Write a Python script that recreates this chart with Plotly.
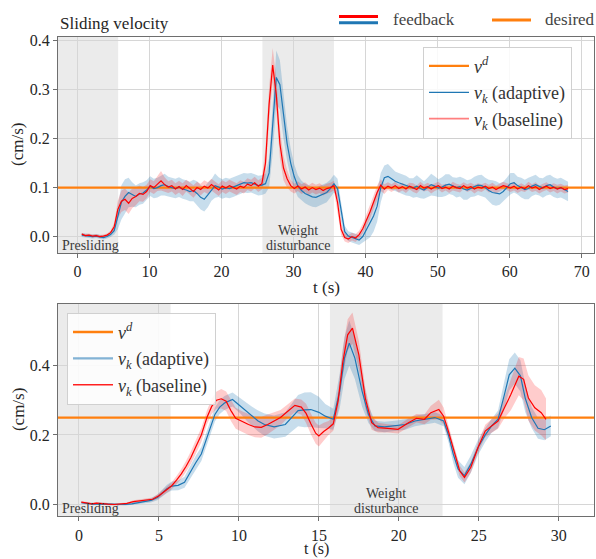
import numpy as np
import plotly.graph_objects as go

# ---------------- data: top panel (full run) ----------------
t_top = [0.6, 1.1, 1.6, 2.1, 2.6, 3.1, 3.6, 4.1, 4.6, 5.1,
         5.6, 6.1, 6.6, 7.1, 7.6, 8.1, 8.6, 9.1, 9.6, 10.1,
         10.6, 11.1, 11.6, 12.1, 12.6, 13.1, 13.6, 14.1, 14.6, 15.1,
         15.6, 16.1, 16.6, 17.1, 17.6, 18.1, 18.6, 19.1, 19.6, 20.1,
         20.6, 21.1, 21.6, 22.1, 22.6, 23.1, 23.6, 24.1, 24.6, 25.1,
         25.6, 26.1, 26.6, 27.1, 27.6, 28.1, 28.6, 29.1, 29.6, 30.1,
         30.6, 31.1, 31.6, 32.1, 32.6, 33.1, 33.6, 34.1, 34.6, 35.1,
         35.6, 36.1, 36.6, 37.1, 37.6, 38.1, 38.6, 39.1, 39.6, 40.1,
         40.6, 41.1, 41.6, 42.1, 42.6, 43.1, 43.6, 44.1, 44.6, 45.1,
         45.6, 46.1, 46.6, 47.1, 47.6, 48.1, 48.6, 49.1, 49.6, 50.1,
         50.6, 51.1, 51.6, 52.1, 52.6, 53.1, 53.6, 54.1, 54.6, 55.1,
         55.6, 56.1, 56.6, 57.1, 57.6, 58.1, 58.6, 59.1, 59.6, 60.1,
         60.6, 61.1, 61.6, 62.1, 62.6, 63.1, 63.6, 64.1, 64.6, 65.1,
         65.6, 66.1, 66.6, 67.1, 67.6, 68.1]

top_baseline = [0.005, 0.002, 0.003, 0.001, 0.002, 0.000, 0.001, 0.003, 0.008, 0.020,
                0.055, 0.072, 0.076, 0.068, 0.078, 0.082, 0.088, 0.086, 0.092, 0.104,
                0.100, 0.108, 0.114, 0.106, 0.101, 0.104, 0.097, 0.102, 0.096, 0.104,
                0.098, 0.092, 0.100, 0.096, 0.103, 0.099, 0.106, 0.101, 0.095, 0.103,
                0.099, 0.104, 0.101, 0.097, 0.103, 0.100, 0.107, 0.104, 0.110, 0.103,
                0.108, 0.150, 0.270, 0.350, 0.290, 0.190, 0.140, 0.118, 0.104, 0.098,
                0.103, 0.097, 0.101, 0.095, 0.100, 0.096, 0.099, 0.094, 0.098, 0.100,
                0.104, 0.070, 0.015, -0.002, -0.005, 0.000, -0.003, 0.004, 0.016, 0.032,
                0.050, 0.070, 0.090, 0.105, 0.097, 0.103, 0.099, 0.104, 0.098, 0.102,
                0.097, 0.103, 0.100, 0.096, 0.104, 0.099, 0.102, 0.097, 0.101, 0.104,
                0.098, 0.101, 0.097, 0.103, 0.100, 0.098, 0.104, 0.099, 0.102, 0.097,
                0.101, 0.099, 0.103, 0.098, 0.101, 0.096, 0.100, 0.104, 0.102, 0.099,
                0.103, 0.097, 0.101, 0.098, 0.104, 0.099, 0.102, 0.096, 0.100, 0.103,
                0.098, 0.101, 0.097, 0.100, 0.096, 0.098]

top_baseline_sd = [0.003, 0.003, 0.003, 0.003, 0.003, 0.003, 0.003, 0.003, 0.004, 0.008,
                   0.018, 0.022, 0.022, 0.022, 0.020, 0.018, 0.016, 0.015, 0.014, 0.013,
                   0.013, 0.015, 0.020, 0.015, 0.012, 0.012, 0.012, 0.012, 0.013, 0.012,
                   0.012, 0.013, 0.012, 0.012, 0.012, 0.012, 0.012, 0.012, 0.012, 0.012,
                   0.012, 0.012, 0.012, 0.012, 0.012, 0.012, 0.012, 0.012, 0.012, 0.012,
                   0.012, 0.030, 0.035, 0.035, 0.035, 0.030, 0.025, 0.018, 0.012, 0.010,
                   0.010, 0.010, 0.010, 0.010, 0.010, 0.010, 0.010, 0.010, 0.010, 0.010,
                   0.010, 0.020, 0.012, 0.008, 0.008, 0.008, 0.008, 0.008, 0.010, 0.012,
                   0.014, 0.014, 0.014, 0.012, 0.010, 0.008, 0.008, 0.008, 0.008, 0.008,
                   0.008, 0.007, 0.009, 0.008, 0.008, 0.007, 0.008, 0.009, 0.008, 0.008,
                   0.008, 0.007, 0.008, 0.009, 0.008, 0.008, 0.007, 0.008, 0.008, 0.009,
                   0.008, 0.008, 0.007, 0.008, 0.009, 0.008, 0.008, 0.008, 0.007, 0.008,
                   0.009, 0.008, 0.008, 0.007, 0.008, 0.008, 0.009, 0.008, 0.008, 0.008,
                   0.008, 0.008, 0.009, 0.008, 0.008, 0.008]

top_adaptive = [0.003, 0.002, 0.001, 0.000, 0.001, -0.001, -0.002, 0.000, 0.004, 0.012,
                0.040, 0.070, 0.082, 0.090, 0.086, 0.082, 0.087, 0.089, 0.095, 0.103,
                0.098, 0.100, 0.104, 0.106, 0.102, 0.100, 0.098, 0.101, 0.097, 0.095,
                0.092, 0.094, 0.088, 0.080, 0.076, 0.085, 0.095, 0.104, 0.101, 0.097,
                0.100, 0.098, 0.101, 0.104, 0.106, 0.110, 0.109, 0.110, 0.107, 0.104,
                0.105, 0.108, 0.130, 0.220, 0.325, 0.310, 0.245, 0.190, 0.150, 0.122,
                0.103, 0.094, 0.088, 0.084, 0.081, 0.080, 0.083, 0.086, 0.090, 0.098,
                0.108, 0.098, 0.050, 0.010, 0.001, -0.002, -0.004, -0.007, 0.000, 0.013,
                0.026, 0.042, 0.062, 0.100, 0.120, 0.123, 0.118, 0.113, 0.110, 0.107,
                0.104, 0.101, 0.099, 0.103, 0.098, 0.095, 0.100, 0.106, 0.103, 0.099,
                0.101, 0.105, 0.107, 0.103, 0.100, 0.102, 0.097, 0.095, 0.099, 0.102,
                0.105, 0.104, 0.100, 0.094, 0.090, 0.088, 0.087, 0.092, 0.100, 0.108,
                0.110, 0.104, 0.100, 0.096, 0.098, 0.103, 0.106, 0.102, 0.099, 0.104,
                0.106, 0.101, 0.098, 0.100, 0.096, 0.092]

top_adaptive_sd = [0.004, 0.004, 0.004, 0.004, 0.004, 0.004, 0.004, 0.004, 0.005, 0.008,
                   0.025, 0.035, 0.035, 0.030, 0.025, 0.022, 0.022, 0.022, 0.020, 0.020,
                   0.020, 0.020, 0.020, 0.022, 0.020, 0.020, 0.020, 0.020, 0.020, 0.020,
                   0.020, 0.022, 0.025, 0.025, 0.025, 0.025, 0.022, 0.025, 0.020, 0.020,
                   0.020, 0.020, 0.020, 0.020, 0.020, 0.020, 0.020, 0.020, 0.020, 0.020,
                   0.020, 0.020, 0.030, 0.050, 0.055, 0.050, 0.045, 0.035, 0.030, 0.025,
                   0.022, 0.020, 0.020, 0.020, 0.020, 0.020, 0.020, 0.020, 0.020, 0.018,
                   0.018, 0.020, 0.020, 0.012, 0.010, 0.010, 0.010, 0.010, 0.012, 0.020,
                   0.028, 0.032, 0.032, 0.030, 0.025, 0.025, 0.022, 0.020, 0.020, 0.020,
                   0.020, 0.018, 0.020, 0.022, 0.020, 0.018, 0.020, 0.022, 0.020, 0.018,
                   0.020, 0.022, 0.020, 0.018, 0.020, 0.020, 0.022, 0.020, 0.018, 0.020,
                   0.020, 0.022, 0.020, 0.022, 0.025, 0.025, 0.022, 0.020, 0.020, 0.022,
                   0.020, 0.018, 0.020, 0.020, 0.022, 0.020, 0.020, 0.018, 0.020, 0.020,
                   0.020, 0.020, 0.020, 0.020, 0.020, 0.020]

vd_top = 0.1
top_presliding = (-2.7, 5.65)
top_weight = (25.67, 35.6)
top_xrange = (-2.7, 71.7)
top_yrange = (-0.034, 0.408)
top_xticks = [0, 10, 20, 30, 40, 50, 60, 70]
top_yticks = [0.0, 0.1, 0.2, 0.3, 0.4]

# ---------------- data: bottom panel (zoom) ----------------
t_bot_baseline = [0.15, 0.5, 0.8, 1.1, 1.4, 1.8, 2.2, 2.6, 3.0, 3.4,
                  3.8, 4.2, 4.6, 5.0, 5.4, 5.8, 6.1, 6.4, 6.7, 7.0,
                  7.3, 7.65, 8.0, 8.3, 8.6, 8.9, 9.2, 9.5, 9.8, 10.2,
                  10.6, 11.0, 11.4, 11.8, 12.2, 12.6, 13.0, 13.5, 13.9, 14.2,
                  14.5, 14.8, 15.0, 15.3, 15.6, 15.9, 16.2, 16.5, 16.8, 17.1,
                  17.5, 17.9, 18.3, 18.7, 19.3, 19.95, 20.6, 21.1, 21.6, 22.0,
                  22.5, 22.8, 23.1, 23.5, 23.8, 24.1, 24.5, 24.95, 25.4, 25.8,
                  26.2, 26.6, 27.0, 27.5, 27.8, 28.1, 28.5, 28.9, 29.2]
bot_baseline = [0.007, 0.005, 0.002, 0.004, 0.002, 0.001, 0.000, 0.001, 0.003, 0.008,
                0.010, 0.012, 0.015, 0.025, 0.040, 0.054, 0.070, 0.088, 0.110, 0.135,
                0.165, 0.200, 0.250, 0.282, 0.300, 0.304, 0.297, 0.270, 0.248, 0.238,
                0.230, 0.223, 0.222, 0.230, 0.240, 0.250, 0.266, 0.285, 0.280, 0.262,
                0.232, 0.205, 0.197, 0.210, 0.220, 0.232, 0.297, 0.411, 0.488, 0.507,
                0.430, 0.306, 0.235, 0.221, 0.219, 0.216, 0.235, 0.248, 0.245, 0.264,
                0.273, 0.254, 0.210, 0.145, 0.097, 0.078, 0.107, 0.164, 0.211, 0.226,
                0.240, 0.278, 0.316, 0.369, 0.360, 0.306, 0.278, 0.264, 0.245]
bot_baseline_sd = [0.003, 0.003, 0.003, 0.003, 0.003, 0.003, 0.003, 0.003, 0.003, 0.004,
                   0.004, 0.005, 0.005, 0.007, 0.009, 0.010, 0.012, 0.014, 0.016, 0.018,
                   0.020, 0.020, 0.020, 0.022, 0.025, 0.028, 0.028, 0.030, 0.030, 0.030,
                   0.030, 0.030, 0.030, 0.028, 0.025, 0.022, 0.020, 0.020, 0.022, 0.028,
                   0.030, 0.030, 0.030, 0.025, 0.020, 0.020, 0.030, 0.040, 0.045, 0.045,
                   0.040, 0.030, 0.020, 0.014, 0.012, 0.012, 0.012, 0.012, 0.014, 0.020,
                   0.028, 0.025, 0.018, 0.015, 0.015, 0.015, 0.015, 0.015, 0.018, 0.020,
                   0.022, 0.030, 0.045, 0.055, 0.060, 0.065, 0.065, 0.065, 0.060]

t_bot_adaptive = [0.15, 0.5, 0.9, 1.3, 1.7, 2.1, 2.5, 2.9, 3.3, 3.7,
                  4.1, 4.5, 4.9, 5.2, 5.5, 5.8, 6.2, 6.6, 7.0, 7.3,
                  7.65, 8.06, 8.5, 8.8, 9.1, 9.6, 10.1, 10.5, 10.8, 11.2,
                  11.6, 12.2, 12.9, 13.3, 13.7, 14.1, 14.5, 15.0, 15.4, 15.9,
                  16.3, 16.6, 16.9, 17.25, 17.7, 18.1, 18.5, 19.1, 19.75, 20.4,
                  21.0, 21.6, 22.25, 22.8, 23.1, 23.4, 23.7, 24.1, 24.5, 24.95,
                  25.4, 25.8, 26.2, 26.6, 26.9, 27.25, 27.6, 27.9, 28.3, 28.7,
                  29.1, 29.5]
bot_adaptive = [0.005, 0.003, 0.001, 0.002, 0.001, 0.000, 0.000, 0.000, 0.002, 0.006,
                0.009, 0.012, 0.020, 0.032, 0.045, 0.053, 0.055, 0.064, 0.097, 0.120,
                0.145, 0.200, 0.259, 0.280, 0.292, 0.302, 0.283, 0.265, 0.254, 0.240,
                0.230, 0.223, 0.230, 0.250, 0.270, 0.272, 0.273, 0.265, 0.254, 0.245,
                0.326, 0.421, 0.464, 0.421, 0.326, 0.259, 0.226, 0.223, 0.226, 0.230,
                0.240, 0.245, 0.250, 0.240, 0.200, 0.145, 0.102, 0.083, 0.116, 0.164,
                0.200, 0.226, 0.245, 0.316, 0.373, 0.392, 0.370, 0.306, 0.250, 0.219,
                0.215, 0.226]
bot_adaptive_sd = [0.003, 0.003, 0.003, 0.003, 0.003, 0.003, 0.003, 0.003, 0.003, 0.004,
                   0.005, 0.006, 0.008, 0.010, 0.012, 0.013, 0.014, 0.016, 0.020, 0.020,
                   0.020, 0.020, 0.020, 0.020, 0.020, 0.020, 0.022, 0.025, 0.028, 0.030,
                   0.032, 0.033, 0.035, 0.040, 0.045, 0.050, 0.050, 0.045, 0.035, 0.030,
                   0.050, 0.060, 0.065, 0.060, 0.045, 0.025, 0.015, 0.015, 0.015, 0.015,
                   0.015, 0.015, 0.015, 0.015, 0.020, 0.025, 0.025, 0.025, 0.025, 0.022,
                   0.020, 0.020, 0.025, 0.040, 0.045, 0.045, 0.045, 0.040, 0.030, 0.030,
                   0.030, 0.030]

vd_bot = 0.25
bot_presliding = (-1.31, 5.73)
bot_weight = (15.69, 22.73)
bot_xrange = (-1.31, 32.2)
bot_yrange = (-0.034, 0.577)
bot_xticks = [0, 5, 10, 15, 20, 25, 30]
bot_yticks = [0.0, 0.2, 0.4]

# ---------------- style ----------------
FONT = "'Liberation Serif', 'DejaVu Serif', serif"
BLUE = "#1f77b4"
RED = "#ff0000"
ORANGE = "#ff7f0e"
BLUE_BAND = "rgba(31,119,180,0.25)"
RED_BAND = "rgba(255,0,0,0.20)"
SHADE = "#ebebeb"
GRID = "#d6d6d6"
FRAME = "#6e6e6e"
TXT = "#262626"

W, H = 596, 559
ML, MR = 58, 2


def py(pix):
    return 1 - pix / H


def px(pix):
    return (pix - ML) / (W - ML - MR)


fig = go.Figure()


def band(t, m, s, color, xa, ya):
    m = np.array(m)
    s = np.array(s)
    fig.add_trace(go.Scatter(x=t, y=m + s, mode="lines", line=dict(width=0),
                             showlegend=False, hoverinfo="skip", xaxis=xa, yaxis=ya))
    fig.add_trace(go.Scatter(x=t, y=m - s, mode="lines", line=dict(width=0),
                             fill="tonexty", fillcolor=color, showlegend=False,
                             hoverinfo="skip", xaxis=xa, yaxis=ya))


def panel(t_b, base, base_sd, t_a, adap, adap_sd, vd, xr, xa, ya):
    band(t_a, adap, adap_sd, BLUE_BAND, xa, ya)
    band(t_b, base, base_sd, RED_BAND, xa, ya)
    fig.add_trace(go.Scatter(x=list(xr), y=[vd, vd], mode="lines",
                             line=dict(color=ORANGE, width=2.2), showlegend=False,
                             xaxis=xa, yaxis=ya))
    fig.add_trace(go.Scatter(x=t_a, y=adap, mode="lines", line=dict(color=BLUE, width=1.2),
                             showlegend=False, xaxis=xa, yaxis=ya))
    fig.add_trace(go.Scatter(x=t_b, y=base, mode="lines", line=dict(color=RED, width=1.2),
                             showlegend=False, xaxis=xa, yaxis=ya))


panel(t_top, top_baseline, top_baseline_sd, t_top, top_adaptive, top_adaptive_sd,
      vd_top, top_xrange, "x", "y")
panel(t_bot_baseline, bot_baseline, bot_baseline_sd, t_bot_adaptive, bot_adaptive,
      bot_adaptive_sd, vd_bot, bot_xrange, "x2", "y2")

LBL_VD = "<i>v</i><sup><i>d</i></sup>"
LBL_AD = "<i>v<sub>k</sub></i> (adaptive)"
LBL_BL = "<i>v<sub>k</sub></i> (baseline)"

# legend entries (top panel)
for name, col, w in [(LBL_VD, ORANGE, 2.2), (LBL_AD, BLUE, 1.2), (LBL_BL, "rgba(255,0,0,0.5)", 1.8)]:
    fig.add_trace(go.Scatter(x=[None], y=[None], mode="lines", name=name,
                             line=dict(color=col, width=w), legend="legend",
                             xaxis="x", yaxis="y"))
# legend entries (bottom panel)
for name, col, w in [(LBL_VD, ORANGE, 2.5), (LBL_AD, "rgba(31,119,180,0.55)", 2.2), (LBL_BL, "#ff2020", 1.3)]:
    fig.add_trace(go.Scatter(x=[None], y=[None], mode="lines", name=name,
                             line=dict(color=col, width=w), legend="legend2",
                             xaxis="x2", yaxis="y2"))

shapes = []
for (x0, x1), xa, ya in [(top_presliding, "x", "y"), (top_weight, "x", "y"),
                         (bot_presliding, "x2", "y2"), (bot_weight, "x2", "y2")]:
    shapes.append(dict(type="rect", xref=xa, yref=ya + " domain", x0=x0, x1=x1, y0=0, y1=1,
                       fillcolor=SHADE, line=dict(width=0), layer="below"))

# figure-level legend: "feedback" (red over blue) and "desired"
shapes += [
    dict(type="line", xref="paper", yref="paper", x0=px(339), x1=px(378), y0=py(12.5), y1=py(12.5),
         line=dict(color=RED, width=3)),
    dict(type="line", xref="paper", yref="paper", x0=px(339), x1=px(378), y0=py(19), y1=py(19),
         line=dict(color=BLUE, width=3)),
    dict(type="line", xref="paper", yref="paper", x0=px(492), x1=px(531), y0=py(16), y1=py(16),
         line=dict(color=ORANGE, width=3)),
]

ann = []
ann.append(dict(text="Sliding velocity", xref="paper", yref="paper", x=0, y=py(31),
                xanchor="left", yanchor="bottom", showarrow=False,
                font=dict(size=17, color=TXT, family=FONT)))
ann.append(dict(text="feedback", xref="paper", yref="paper", x=px(391), y=py(16),
                xanchor="left", yanchor="middle", showarrow=False,
                font=dict(size=17, color="#444", family=FONT)))
ann.append(dict(text="desired", xref="paper", yref="paper", x=px(543), y=py(16),
                xanchor="left", yanchor="middle", showarrow=False,
                font=dict(size=17, color="#444", family=FONT)))
# axis titles
ann.append(dict(text="t (s)", xref="paper", yref="paper", x=px(326), y=py(286),
                xanchor="center", yanchor="middle", showarrow=False,
                font=dict(size=17, color=TXT, family=FONT)))
ann.append(dict(text="t (s)", xref="paper", yref="paper", x=px(316), y=py(549),
                xanchor="center", yanchor="middle", showarrow=False,
                font=dict(size=16, color=TXT, family=FONT)))
for yc in [142, 409]:
    ann.append(dict(text="(cm/s)", xref="paper", yref="paper", x=px(18), y=py(yc),
                    xanchor="center", yanchor="middle", textangle=-90, showarrow=False,
                    font=dict(size=17, color=TXT, family=FONT)))
# region labels
for xa, ya, wreg in [("x", "y", top_weight), ("x2", "y2", bot_weight)]:
    ann.append(dict(text="Presliding", xref=xa + " domain", yref=ya + " domain", x=0.004, y=0,
                    xanchor="left", yanchor="bottom", showarrow=False, yshift=-2,
                    font=dict(size=14, color="#3a3a3a", family=FONT)))
    ann.append(dict(text="disturbance", xref=xa, yref=ya + " domain",
                    x=(wreg[0] + wreg[1]) / 2, y=0, xanchor="center", yanchor="bottom",
                    showarrow=False, yshift=-2, font=dict(size=14, color="#3a3a3a", family=FONT)))
    ann.append(dict(text="Weight", xref=xa, yref=ya + " domain",
                    x=(wreg[0] + wreg[1]) / 2, y=0, xanchor="center", yanchor="bottom",
                    showarrow=False, yshift=13, font=dict(size=14, color="#3a3a3a", family=FONT)))

axis_common = dict(showgrid=True, gridcolor=GRID, gridwidth=1, showline=True, linecolor=FRAME,
                   linewidth=1, mirror=True, ticks="outside", ticklen=4, tickcolor=FRAME,
                   zeroline=False, tickfont=dict(size=16, color=TXT, family=FONT))

fig.update_layout(
    width=W, height=H,
    margin=dict(l=ML, r=MR, t=0, b=0),
    paper_bgcolor="white", plot_bgcolor="white",
    font=dict(family=FONT, color=TXT),
    shapes=shapes, annotations=ann,
    xaxis=dict(domain=[0, 1], anchor="y", range=list(top_xrange), tickvals=top_xticks, **axis_common),
    yaxis=dict(domain=[py(251), py(33)], anchor="x", range=list(top_yrange), tickvals=top_yticks,
               tickformat=".1f", **axis_common),
    xaxis2=dict(domain=[0, 1], anchor="y2", range=list(bot_xrange), tickvals=bot_xticks, **axis_common),
    yaxis2=dict(domain=[py(516), py(302)], anchor="x2", range=list(bot_yrange), tickvals=bot_yticks,
                tickformat=".1f", **axis_common),
    legend=dict(x=px(423), y=py(43), xanchor="left", yanchor="top", bgcolor="rgba(255,255,255,0.85)",
                bordercolor="#d0d0d0", borderwidth=1, font=dict(size=18, color="#333", family=FONT),
                itemwidth=40, tracegroupgap=0, traceorder="normal"),
    legend2=dict(x=px(67), y=py(311), xanchor="left", yanchor="top", bgcolor="rgba(255,255,255,0.85)",
                 bordercolor="#d0d0d0", borderwidth=1, font=dict(size=18, color="#333", family=FONT),
                 itemwidth=40, tracegroupgap=0, traceorder="normal"),
    showlegend=True,
)

fig.write_html("out.html", config={"displayModeBar": False},
               post_script="document.body.style.margin='0px';")
